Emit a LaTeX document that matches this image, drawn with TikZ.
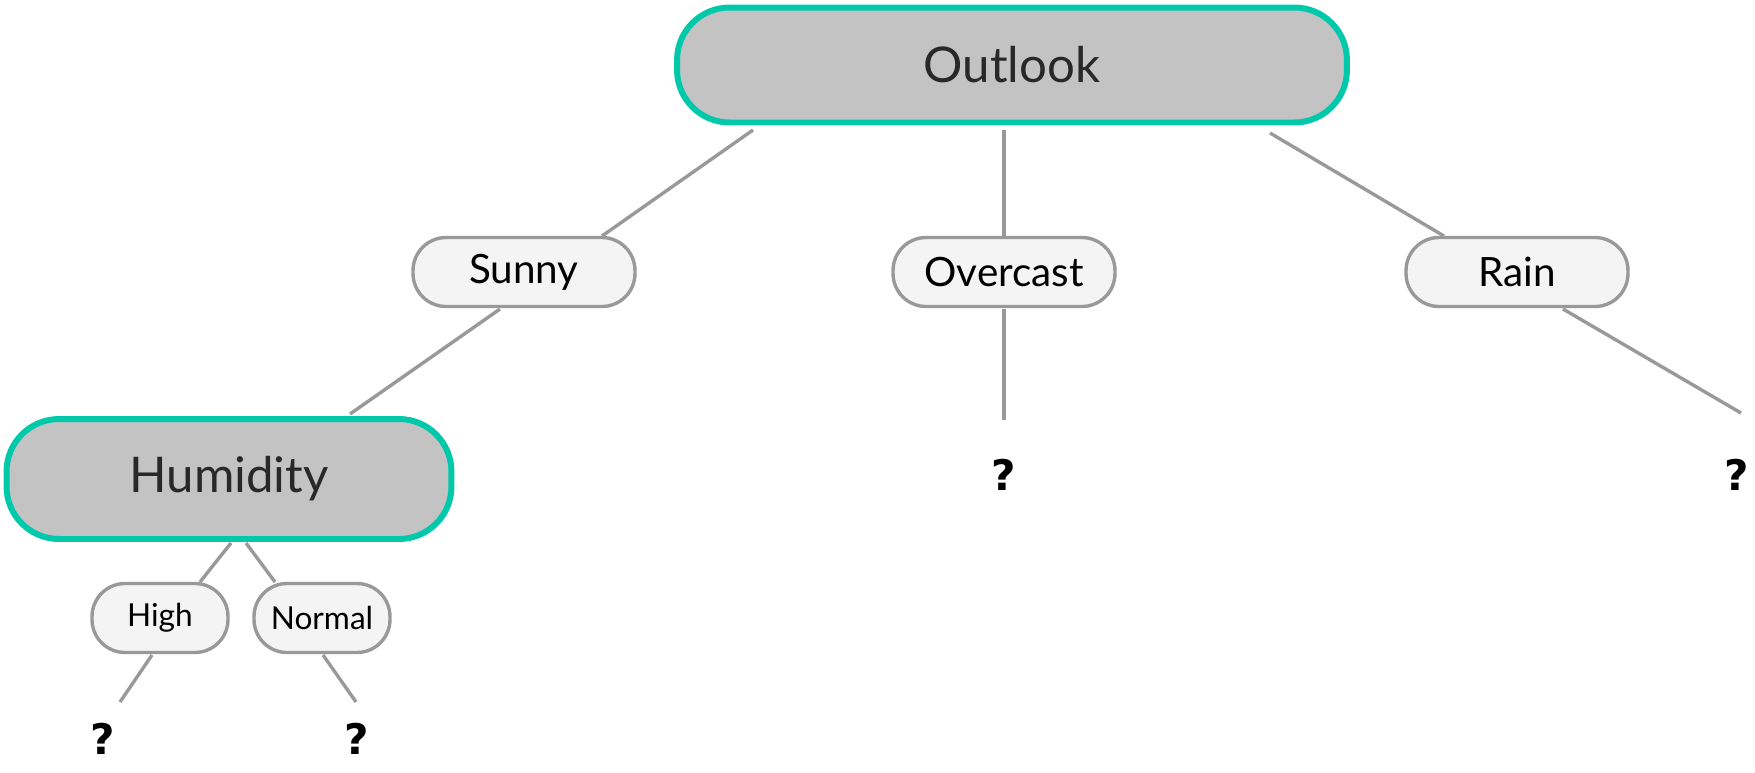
\documentclass[tikz,border=0pt]{standalone}
\usepackage{fontspec}
\setmainfont{Lato}
\newfontfamily\qmarkfont{DejaVu Sans}
\usetikzlibrary{calc}
\definecolor{teal}{RGB}{0,200,170}
\definecolor{attrfill}{RGB}{195,195,195}
\definecolor{valfill}{RGB}{244,244,244}
\definecolor{edgegray}{RGB}{153,153,153}
\definecolor{labeltext}{RGB}{40,40,40}

\begin{document}
\begin{tikzpicture}[x=0.02cm, y=-0.02cm,
    attr/.style={rectangle, draw=teal, fill=attrfill, line width=6*0.567pt,
        rounded corners=1.05cm, outer sep=0pt, text=labeltext,
        font=\fontsize{28}{32}\selectfont},
    val/.style={rectangle, draw=edgegray, fill=valfill, line width=3.4*0.567pt,
        rounded corners=0.66cm, outer sep=0pt, minimum height=1.38cm,
        inner sep=0pt, text=black},
    leaf/.style={font=\fontsize{24}{28}\qmarkfont\bfseries, inner sep=0pt},
    edge/.style={draw=edgegray, line width=3.4*0.567pt}]
    \useasboundingbox (0,0) rectangle (1755,772);

    % Attribute nodes
    \path
    (1012, 65) node[attr, minimum width=13.4cm, minimum height=2.3cm] (Outlook) {Outlook}
    (229, 479) node[attr, minimum width=8.9cm, minimum height=2.4cm] (Humidity) {Humidity}
    ;

    % Value nodes
    \path
    (524, 272) node[val, minimum width=4.44cm, font=\fontsize{23}{27}\selectfont] (Sunny) {Sunny}
    (1004, 272) node[val, minimum width=4.44cm, font=\fontsize{23}{27}\selectfont] (Overcast) {Overcast}
    (1517, 272) node[val, minimum width=4.44cm, font=\fontsize{23}{27}\selectfont] (Rain) {Rain}
    (160, 618) node[val, minimum width=2.72cm, font=\fontsize{18}{22}\selectfont] (High) {High}
    (322, 618) node[val, minimum width=2.72cm, font=\fontsize{18}{22}\selectfont] (Normal) {Normal}
    ;

    % Unknown leaves
    \path
    (1004, 475) node[leaf] (Q2) {?}
    (1737, 475) node[leaf] (Q3) {?}
    (103, 739) node[leaf] (Q4) {?}
    (357, 739) node[leaf] (Q5) {?}
    ;

    % Edges
    \draw[edge] ($(Outlook)+(-259,65)$) -- ($(Sunny)+(78,-36)$);
    \draw[edge] ($(Outlook)+(-8,65)$) -- ($(Overcast)+(0,-36)$);
    \draw[edge] ($(Outlook)+(258,68)$) -- ($(Rain)+(-73,-36)$);
    \draw[edge] ($(Sunny)+(-24,37)$) -- ($(Humidity)+(121,-65)$);
    \draw[edge] ($(Overcast)+(0,37)$) -- ($(Q2)+(0,-55)$);
    \draw[edge] ($(Rain)+(46,37)$) -- ($(Q3)+(4,-62)$);
    \draw[edge] ($(Humidity)+(2,64)$) -- ($(High)+(40,-36)$);
    \draw[edge] ($(Humidity)+(17,64)$) -- ($(Normal)+(-47,-36)$);
    \draw[edge] ($(High)+(-8,37)$) -- ($(Q4)+(17,-37)$);
    \draw[edge] ($(Normal)+(1,37)$) -- ($(Q5)+(-1,-37)$);

\end{tikzpicture}
\end{document}
